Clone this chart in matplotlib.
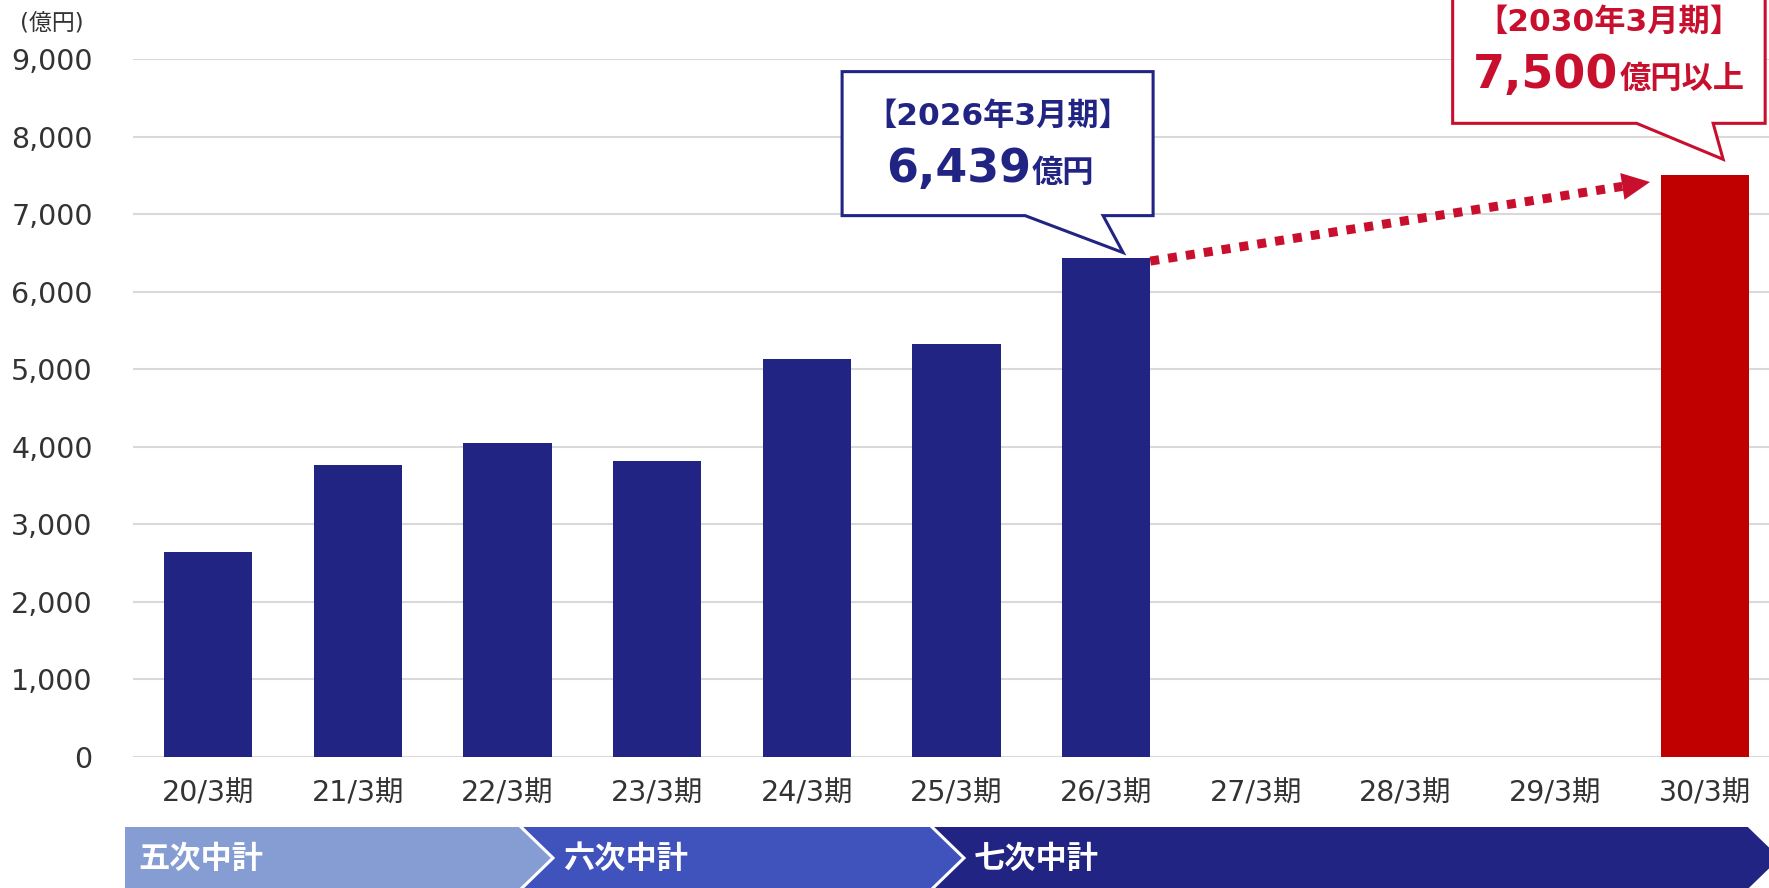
import numpy as np
import matplotlib
matplotlib.use("Agg")
import matplotlib.pyplot as plt
from matplotlib.patches import Polygon

plt.rcParams['font.family'] = ['DejaVu Sans', 'Noto Sans CJK JP']

# 売上高の実績と計画
periods = ['20/3期', '21/3期', '22/3期', '23/3期', '24/3期', '25/3期',
           '26/3期', '27/3期', '28/3期', '29/3期', '30/3期']
sales = [2640, 3765, 4045, 3820, 5135, 5320, 6439, None, None, None, 7500]
target_idx = 10
yticks = [0, 1000, 2000, 3000, 4000, 5000, 6000, 7000, 8000, 9000]
plans = ['五次中計', '六次中計', '七次中計']

NAVY = '#212483'
RED_BAR = '#C00000'
RED = '#C8102E'
GRAY_TXT = '#333333'

W, H = 1769, 888
fig = plt.figure(figsize=(W / 100, H / 100), dpi=100)
ax = fig.add_axes([133 / W, 131 / H, (W - 133) / W, 698 / H])

bar_w = 0.59
xs = [i for i, v in enumerate(sales) if v is not None]
hs = [sales[i] for i in xs]
cols = [RED_BAR if i == target_idx else NAVY for i in xs]
ax.bar(xs, hs, width=bar_w, color=cols, zorder=2)

ax.set_xlim(-0.503, 10.43)
ax.set_ylim(0, 9000)
ax.set_xticks(range(len(periods)))
ax.set_xticklabels(periods)
ax.set_yticks(yticks)
ax.set_yticklabels([f'{v:,}' for v in yticks])
ax.grid(axis='y', color='#D9D9D9', lw=1.5, zorder=0)
ax.set_axisbelow(True)
for s in ax.spines.values():
    s.set_visible(False)
ax.tick_params(axis='both', length=0, labelsize=20.5, labelcolor=GRAY_TXT)
ax.tick_params(axis='x', pad=16)
ax.tick_params(axis='y', pad=29)

# overlay in pixel coordinates for callouts and the plan band
deco = fig.add_axes([0, 0, 1, 1], zorder=5)
deco.set_xlim(0, W)
deco.set_ylim(H, 0)
deco.axis('off')
deco.patch.set_alpha(0)


def px(x, y):
    d = ax.transData.transform((x, y))
    return d[0], H - d[1]


deco.text(52, 23, '(億円)', fontsize=16.5, color=GRAY_TXT, ha='center', va='center')


def callout(anchor, box, base, tip, color, head, value, unit, head_dy, val_dy, split):
    ax0, ay0 = anchor
    x0, y0, x1, y1 = box
    pts = [(x0, y0), (x1, y0), (x1, y1), (base[1], y1), tip, (base[0], y1), (x0, y1)]
    pts = [(ax0 + a, ay0 + b) for a, b in pts]
    deco.add_patch(Polygon(pts, closed=True, facecolor='white', edgecolor=color,
                           lw=2.2, joinstyle='miter', zorder=3))
    cx = ax0 + (x0 + x1) / 2
    deco.text(cx, ay0 + head_dy, head, fontsize=22.5, fontweight='bold', color=color,
              ha='center', va='center', zorder=4)
    deco.text(ax0 + split, ay0 + val_dy, value, fontsize=33, fontweight='bold',
              color=color, ha='right', va='baseline', zorder=4)
    deco.text(ax0 + split + 1, ay0 + val_dy, unit, fontsize=22.5, fontweight='bold',
              color=color, ha='left', va='baseline', zorder=4)


callout(px(6, sales[6]), (-264, -186, 47, -42), (-81, -3), (17, -5), NAVY,
        '【2026年3月期】', f'{sales[6]:,}', '億円', -142, -76, -75)
callout(px(10, sales[10]), (-252, -185, 60.5, -52), (-68, 8.5), (18.5, -16), RED,
        '【2030年3月期】', f'{sales[10]:,}', '億円以上', -153, -87, -86.5)

# dotted growth arrow from the 26/3 bar to the 30/3 target
sx, sy = px(6 + bar_w / 2, sales[6] - 45)
tx, ty = px(10 - bar_w / 2 - 0.07, sales[10] - 86)
d = np.array([tx - sx, ty - sy])
L = np.hypot(*d)
u = d / L
n = np.array([-u[1], u[0]])
head_len, head_half = 28, 13.5
bx, by = np.array([tx, ty]) - u * head_len
deco.plot([sx, bx], [sy, by], color=RED, lw=6.5, ls=(0, (1, 1)),
          solid_capstyle='butt', dash_capstyle='butt', zorder=3)
tri = [(tx, ty), tuple(np.array([bx, by]) + n * head_half),
       tuple(np.array([bx, by]) - n * head_half)]
deco.add_patch(Polygon(tri, closed=True, facecolor=RED, edgecolor='none', zorder=3))

# plan period band
top, bot = 827, 889
mid = (top + bot) / 2
seg_cols = ['#869DD4', '#4053BC', NAVY]
edges = [125, 521, 932, 1750]
tip_w = 32
for k in range(2, -1, -1):
    l, r = edges[k], edges[k + 1]
    pts = [(l, top), (r, top), (r + tip_w, mid), (r, bot), (l, bot)]
    if k > 0:
        pts.append((l + tip_w, mid))
    deco.add_patch(Polygon(pts, closed=True, facecolor=seg_cols[k],
                           edgecolor='none', zorder=2))
for r in edges[1:]:
    deco.plot([r, r + tip_w, r], [top, mid, bot], color='white', lw=2.2,
              solid_joinstyle='miter', zorder=2.5)
for k, name in enumerate(plans):
    x = edges[k] + (13 if k == 0 else tip_w + 10)
    deco.text(x, mid + 1, name, fontsize=22.5, fontweight='bold', color='white',
              ha='left', va='center', family=['Noto Sans CJK JP'], zorder=4)

fig.savefig('out.png', dpi=100)
